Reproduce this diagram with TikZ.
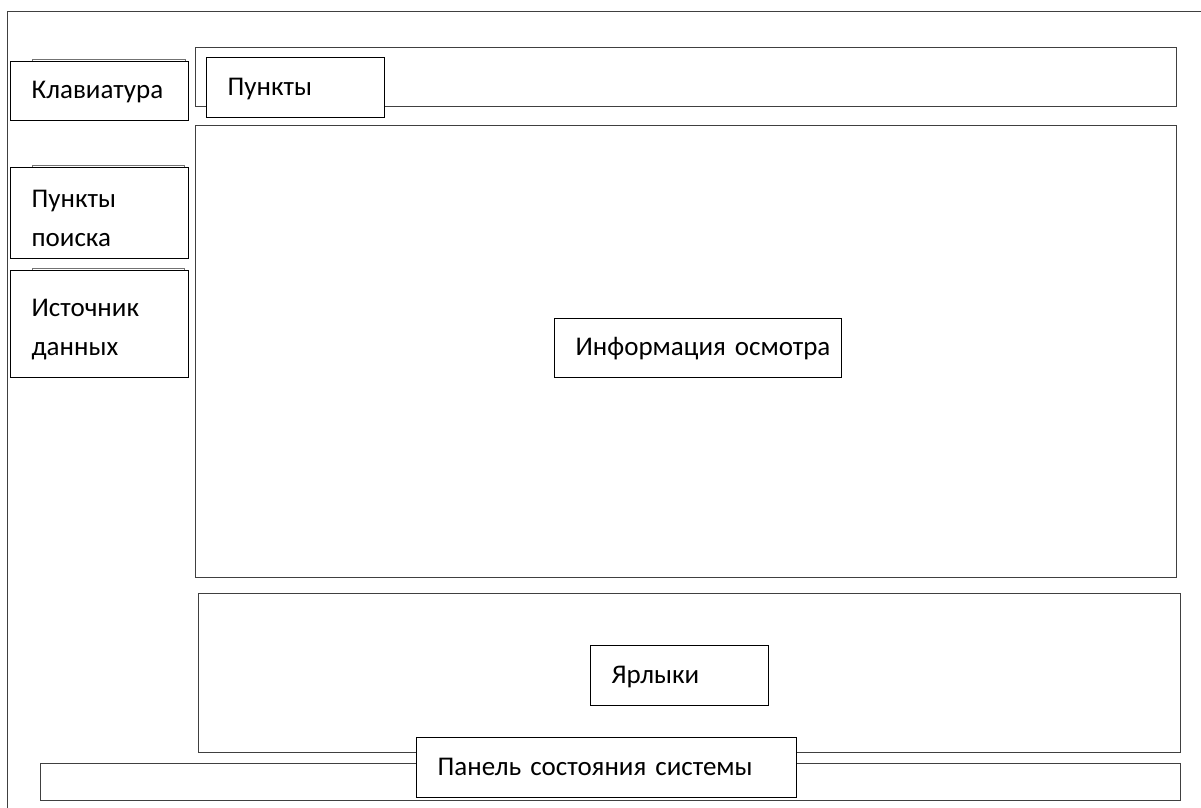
\documentclass[tikz,border=0pt]{standalone}
\usepackage{fontspec}
\setmainfont{Carlito}
\usepackage{tikz}
\usetikzlibrary{positioning}
\tikzstyle{panel}=[draw=black!75,line width=1.2pt,fill=white,anchor=north west,inner sep=0pt]
\tikzstyle{backbox}=[draw=black!55,line width=1.2pt,anchor=north west,inner sep=0pt]
\tikzstyle{labelbox}=[draw=black,line width=1.3pt,fill=white,anchor=north west,inner xsep=21pt,inner ysep=0pt,align=left,font=\fontsize{27}{39}\selectfont]

\begin{document}
\begin{tikzpicture}[x=1pt,y=-1pt]

 \useasboundingbox (0,0) rectangle (1201,807);
 \clip (0,0) rectangle (1201,807);

 % window frame
 \node[panel,minimum width=1230pt,minimum height=830pt] (window) at (7,11) {};

 %Panels
  \foreach \x/\y/\w/\h/\name in {195/47/981/59/menubar, 195/125/981/452/infoarea,
        198/593/982/159/shortcutarea, 40/763/1140/37/statusbar}
          \node[panel,minimum width=\w pt,minimum height=\h pt] (\name) at (\x,\y) {};

 %boxes lying under the left column
  \foreach \x/\y/\w/\h/\name in {32/59/153/58/keyboardback, 32/165/152/88/searchback, 32/268/152/100/sourceback}
          \node[backbox,minimum width=\w pt,minimum height=\h pt] (\name) at (\x,\y) {};

 %Labels
  \foreach \x/\y/\w/\h/\name/\label in {10/61/178/59/keyboard/Клавиатура, 206/57/178/60/items/Пункты,
        10/167/178/91/search/{Пункты\\поиска}, 10/270/178/107/source/{Источник\\данных},
        554/318/287/59/inspection/{Информация~осмотра}, 590/645/178/60/shortcuts/Ярлыки,
        416/737/380/60/status/{Панель~состояния~системы}}
    {
     \pgfmathsetmacro\tw{\w-42}
     \node[labelbox,text width=\tw pt,minimum height=\h pt] (\name) at (\x,\y) {\strut\label};
    }

\end{tikzpicture}
\end{document}
